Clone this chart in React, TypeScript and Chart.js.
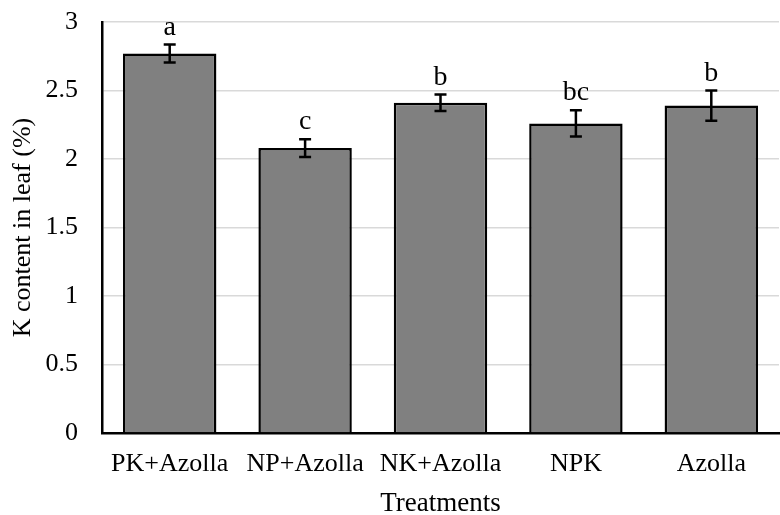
import React, { useEffect, useRef } from "react";
import { Chart, registerables } from "chart.js";

Chart.register(...registerables);

const categories = ["PK+Azolla", "NP+Azolla", "NK+Azolla", "NPK", "Azolla"];
const values = [2.77, 2.08, 2.41, 2.26, 2.39];
const errors = [0.065, 0.065, 0.06, 0.095, 0.11];
const letters = ["a", "c", "b", "bc", "b"];
const yTicks = [0, 0.5, 1, 1.5, 2, 2.5, 3];

const FONT = "'Liberation Serif', 'Times New Roman', serif";

const errorBarPlugin = {
  id: "errorBars",
  afterDatasetsDraw(chart: any) {
    const ctx = chart.ctx;
    const meta = chart.getDatasetMeta(0);
    const yScale = chart.scales.y;
    ctx.save();
    ctx.strokeStyle = "#000";
    ctx.lineWidth = 2.5;
    meta.data.forEach((bar: any, i: number) => {
      const x = bar.x;
      const yTop = yScale.getPixelForValue(values[i] + errors[i]);
      const yBot = yScale.getPixelForValue(values[i] - errors[i]);
      const cap = 6;
      ctx.beginPath();
      ctx.moveTo(x, yTop);
      ctx.lineTo(x, yBot);
      ctx.moveTo(x - cap, yTop);
      ctx.lineTo(x + cap, yTop);
      ctx.moveTo(x - cap, yBot);
      ctx.lineTo(x + cap, yBot);
      ctx.stroke();
      ctx.fillStyle = "#000";
      ctx.font = `28px ${FONT}`;
      ctx.textAlign = "center";
      ctx.textBaseline = "alphabetic";
      ctx.fillText(letters[i], x, yTop - 10);
    });
    ctx.restore();
  },
};

export default function App() {
  const ref = useRef<HTMLCanvasElement>(null);
  useEffect(() => {
    const chart = new Chart(ref.current as HTMLCanvasElement, {
      type: "bar",
      data: {
        labels: categories,
        datasets: [
          {
            data: values,
            backgroundColor: "#808080",
            borderColor: "#000",
            borderWidth: 2.5,
            barPercentage: 0.69,
            categoryPercentage: 1,
          },
        ],
      },
      options: {
        responsive: false,
        animation: false,
        layout: { padding: { left: 0, right: 1, top: 22, bottom: 0 } },
        plugins: { legend: { display: false }, tooltip: { enabled: false } },
        scales: {
          x: {
            grid: { display: false, drawTicks: false },
            border: { display: true, color: "#000", width: 2.5 },
            ticks: { color: "#000", font: { family: FONT, size: 26 }, padding: 16, maxRotation: 0, autoSkip: false },
            title: { display: true, text: "Treatments", color: "#000", font: { family: FONT, size: 27, lineHeight: 0.8 }, padding: { top: 0, bottom: 0 } },
            afterFit: (s: any) => { s.height = 82; s.paddingLeft = 0; s.paddingRight = 0; },
          },
          y: {
            min: 0,
            max: 3,
            afterBuildTicks: (s: any) => { s.ticks = yTicks.map((v) => ({ value: v })); },
            grid: { color: "#d9d9d9", lineWidth: 1.5, drawTicks: false },
            border: { display: true, color: "#000", width: 2.5 },
            ticks: { color: "#000", font: { family: FONT, size: 26 }, padding: 24, callback: (v: any) => String(v) },
            title: { display: true, text: "K content in leaf (%)", color: "#000", font: { family: FONT, size: 26 }, padding: { top: 8, bottom: 0 } },
            afterFit: (s: any) => { s.width = 102; s.paddingTop = 0; s.paddingBottom = 0; },
          },
        },
      },
      plugins: [errorBarPlugin],
    });
    return () => chart.destroy();
  }, []);
  return (
    <div style={{ position: "absolute", left: 0, top: 0, width: 780, height: 515, background: "#fff" }}>
      <canvas ref={ref} width={780} height={515} />
    </div>
  );
}
